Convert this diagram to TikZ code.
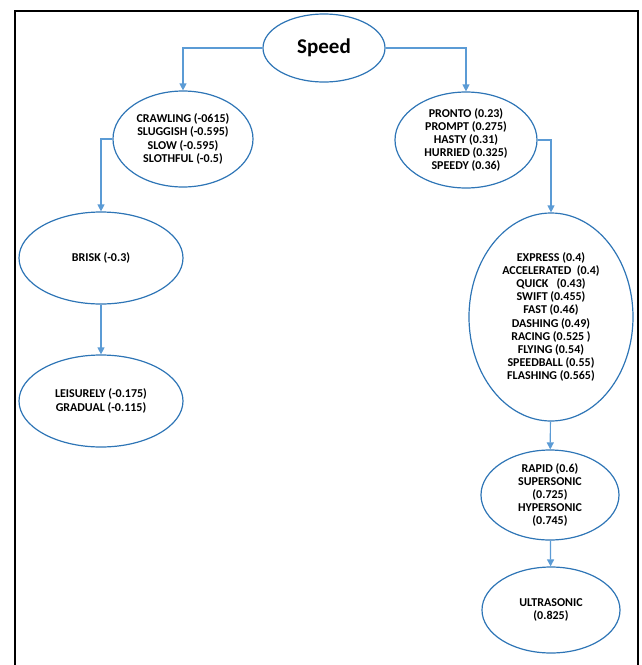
\documentclass[tikz,border=0pt]{standalone}
\usepackage{fontspec}
\setmainfont{Carlito}
\usepackage{tikz}
\usetikzlibrary{shapes.geometric,arrows.meta}

\definecolor{ringblue}{HTML}{2E75B6}
\definecolor{linkblue}{HTML}{5B9BD5}

\tikzset{
	word/.style={ellipse, draw=ringblue, line width=1.2pt, inner sep=0pt, align=center,
		font=\bfseries\fontsize{12}{13.2}\selectfont},
	link/.style={->, >={Triangle[length=7pt,width=7pt]}, draw=linkblue, line width=1.2pt}
}

\begin{document}
\begin{tikzpicture}[x=1pt,y=-1pt]
	\useasboundingbox (0,0) rectangle (641,665);
	%\draw[help lines] (0,0) grid[step=50] (641,665);
	\draw[line width=2pt] (14.5,666) -- (14.5,10.5) -- (637.5,10.5) -- (637.5,666);
	\node[word, minimum width=122, minimum height=68, font=\bfseries\fontsize{21}{24}\selectfont] (speed) at (324,48) {Speed};
	\node[word, minimum width=140, minimum height=96] (crawl) at (183,139) {CRAWLING (-0615)\\SLUGGISH (-0.595)\\SLOW (-0.595)\\SLOTHFUL (-0.5)};
	\node[word, minimum width=142, minimum height=96] (pronto) at (466,140) {PRONTO (0.23)\\PROMPT (0.275)\\HASTY (0.31)\\HURRIED (0.325)\\SPEEDY (0.36)};
	\node[word, minimum width=164, minimum height=92] (brisk) at (101,258) {BRISK (-0.3)};
	\node[word, minimum width=164, minimum height=92] (leisure) at (101,401) {LEISURELY (-0.175)\\GRADUAL (-0.115)};
	\node[word, minimum width=164, minimum height=208] (express) at (551,317) {EXPRESS (0.4)\\ACCELERATED~~(0.4)\\QUICK~~~(0.43)\\SWIFT (0.455)\\FAST (0.46)\\DASHING (0.49)\\RACING (0.525~)\\FLYING (0.54)\\SPEEDBALL (0.55)\\FLASHING (0.565)};
	\node[word, minimum width=138, minimum height=90] (rapid) at (550,495) {RAPID (0.6)\\SUPERSONIC\\(0.725)\\HYPERSONIC\\(0.745)};
	\node[word, minimum width=138, minimum height=86] (ultra) at (551,610) {ULTRASONIC\\(0.825)};

	\draw[link] (speed.west) -| (crawl.north);
	\draw[link] (speed.east) -| (pronto.north);
	\draw[link] (crawl.west) -| (brisk.north);
	\draw[link] (brisk) -- (leisure);
	\draw[link] (pronto.east) -| (express.north);
	\draw[link] (express) -- (rapid);
	\draw[link] (rapid) -- (ultra);
\end{tikzpicture}
\end{document}
